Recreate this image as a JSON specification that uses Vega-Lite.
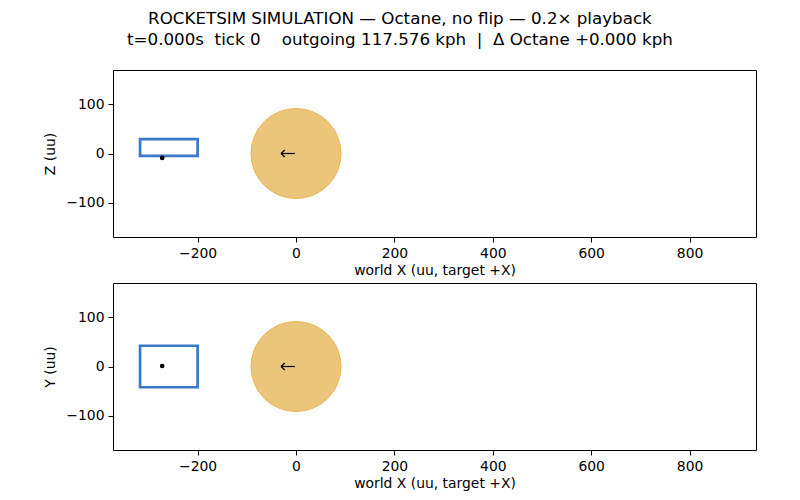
{
  "$schema": "https://vega.github.io/schema/vega-lite/v6.json",
  "background": "white",
  "padding": {"left": 43, "top": 10, "right": 44, "bottom": 4},
  "title": {
    "text": [
      "ROCKETSIM SIMULATION — Octane, no flip — 0.2× playback",
      "t=0.000s\u00a0 tick 0\u00a0\u00a0\u00a0 outgoing 117.576 kph\u00a0 |\u00a0 Δ Octane +0.000 kph"
    ],
    "font": "DejaVu Sans",
    "fontSize": 16.7,
    "fontWeight": "normal",
    "color": "black",
    "anchor": "middle",
    "frame": "bounds",
    "lineHeight": 21,
    "offset": 21
  },
  "spacing": 3,
  "vconcat": [
    {
      "width": 643,
      "height": 167,
      "encoding": {
        "x": {
          "field": "x",
          "type": "quantitative",
          "scale": {"domain": [-372, 935], "nice": false, "zero": false},
          "axis": {"values": [-200, 0, 200, 400, 600, 800], "title": "world X (uu, target +X)"}
        },
        "y": {
          "field": "y",
          "type": "quantitative",
          "scale": {"domain": [-169, 169], "nice": false, "zero": false},
          "axis": {"values": [-100, 0, 100], "title": "Z (uu)"}
        }
      },
      "layer": [
        {
          "data": {"values": [{"x": 0, "y": 0}]},
          "mark": {"type": "point", "shape": "circle", "filled": true, "size": 8100, "fill": "#ebc57a", "stroke": "#e6b656", "strokeWidth": 1, "opacity": 1}
        },
        {
          "data": {"values": [{"x": -317, "y": -5, "x2": -200, "y2": 29}]},
          "mark": {"type": "rect", "filled": false, "stroke": "#3a78c8", "strokeWidth": 2.7},
          "encoding": {"x2": {"field": "x2"}, "y2": {"field": "y2"}}
        },
        {
          "data": {"values": [{"x": -272, "y": -9}]},
          "mark": {"type": "point", "shape": "circle", "filled": true, "size": 22, "color": "black", "opacity": 1}
        },
        {
          "data": {"values": [{"x": -2, "y": 0, "x2": -30}]},
          "mark": {"type": "rule", "color": "black", "strokeWidth": 1.2},
          "encoding": {"x2": {"field": "x2"}}
        },
        {
          "data": {"values": [{"x": -30, "y": 0}]},
          "mark": {"type": "point", "shape": "M 1 -1 L 0 0 L 1 1", "filled": false, "size": 49, "stroke": "black", "strokeWidth": 1.2, "opacity": 1}
        }
      ]
    },
    {
      "width": 643,
      "height": 167,
      "encoding": {
        "x": {
          "field": "x",
          "type": "quantitative",
          "scale": {"domain": [-372, 935], "nice": false, "zero": false},
          "axis": {"values": [-200, 0, 200, 400, 600, 800], "title": "world X (uu, target +X)"}
        },
        "y": {
          "field": "y",
          "type": "quantitative",
          "scale": {"domain": [-169, 169], "nice": false, "zero": false},
          "axis": {"values": [-100, 0, 100], "title": "Y (uu)"}
        }
      },
      "layer": [
        {
          "data": {"values": [{"x": 0, "y": 0}]},
          "mark": {"type": "point", "shape": "circle", "filled": true, "size": 8100, "fill": "#ebc57a", "stroke": "#e6b656", "strokeWidth": 1, "opacity": 1}
        },
        {
          "data": {"values": [{"x": -317, "y": -42, "x2": -200, "y2": 42}]},
          "mark": {"type": "rect", "filled": false, "stroke": "#3a78c8", "strokeWidth": 2.7},
          "encoding": {"x2": {"field": "x2"}, "y2": {"field": "y2"}}
        },
        {
          "data": {"values": [{"x": -272, "y": 1}]},
          "mark": {"type": "point", "shape": "circle", "filled": true, "size": 22, "color": "black", "opacity": 1}
        },
        {
          "data": {"values": [{"x": -2, "y": 0, "x2": -30}]},
          "mark": {"type": "rule", "color": "black", "strokeWidth": 1.2},
          "encoding": {"x2": {"field": "x2"}}
        },
        {
          "data": {"values": [{"x": -30, "y": 0}]},
          "mark": {"type": "point", "shape": "M 1 -1 L 0 0 L 1 1", "filled": false, "size": 49, "stroke": "black", "strokeWidth": 1.2, "opacity": 1}
        }
      ]
    }
  ],
  "config": {
    "view": {"stroke": "black", "strokeWidth": 1},
    "axis": {
      "grid": false,
      "domain": false,
      "labelFont": "DejaVu Sans",
      "labelFontSize": 13.9,
      "labelColor": "black",
      "titleFont": "DejaVu Sans",
      "titleFontSize": 13.9,
      "titleFontWeight": "normal",
      "titleColor": "black",
      "tickColor": "black",
      "tickSize": 5,
      "labelPadding": 4,
      "titlePadding": 4
    },
    "axisY": {"titlePadding": 8}
  }
}
